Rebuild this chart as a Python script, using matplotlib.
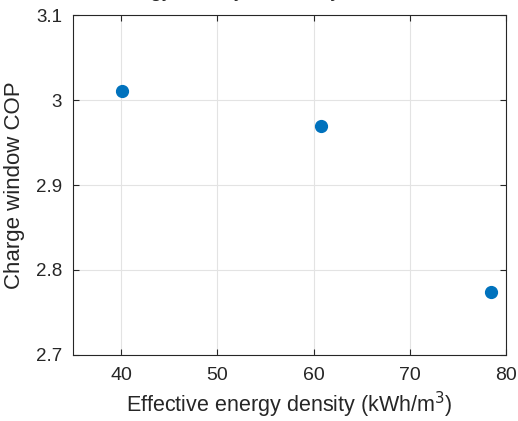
import matplotlib
matplotlib.use('Agg')
import matplotlib.pyplot as plt

plt.rcParams['font.family'] = ['Liberation Sans', 'DejaVu Sans']

# effective energy density (kWh/m^3) vs charge-window COP
density = [40.1, 60.8, 78.4]
cop = [3.011, 2.969, 2.774]

xticks = [40, 50, 60, 70, 80]
yticks = [2.7, 2.8, 2.9, 3.0, 3.1]
yticklabels = ['2.7', '2.8', '2.9', '3', '3.1']

BLUE = '#0072BD'
EDGE = '#262626'

fig = plt.figure(figsize=(5.18, 4.21), dpi=100)
ax = fig.add_axes([0.141, 0.157, 0.836, 0.807])

ax.plot(density, cop, linestyle='none', marker='o', markersize=8.5,
        color=BLUE, markeredgecolor=BLUE, zorder=3)

ax.set_xlim(35, 80)
ax.set_ylim(2.7, 3.1)
ax.set_xticks(xticks)
ax.set_yticks(yticks)
ax.set_yticklabels(yticklabels)
ax.grid(True, color='#E3E3E3', linewidth=0.8)
ax.set_axisbelow(True)

for s in ax.spines.values():
    s.set_color(EDGE)
    s.set_linewidth(0.8)
ax.tick_params(direction='in', length=4, width=0.8, color=EDGE,
               top=True, right=True, labelcolor=EDGE)
ax.tick_params(axis='x', labelsize=14, pad=9)
ax.tick_params(axis='y', labelsize=13.5, pad=8)

ax.set_xlabel('Effective energy density (kWh/m$^3$)', fontsize=15.5, color=EDGE, labelpad=4)
ax.set_ylabel('Charge window COP', fontsize=16, color=EDGE, labelpad=8)

# title sits mostly above the canvas edge
fig.text(0.205, 1.006, 'Energy density, efficiency', fontsize=15, color=EDGE,
         ha='left', va='baseline')

fig.savefig('out.png', dpi=100)
